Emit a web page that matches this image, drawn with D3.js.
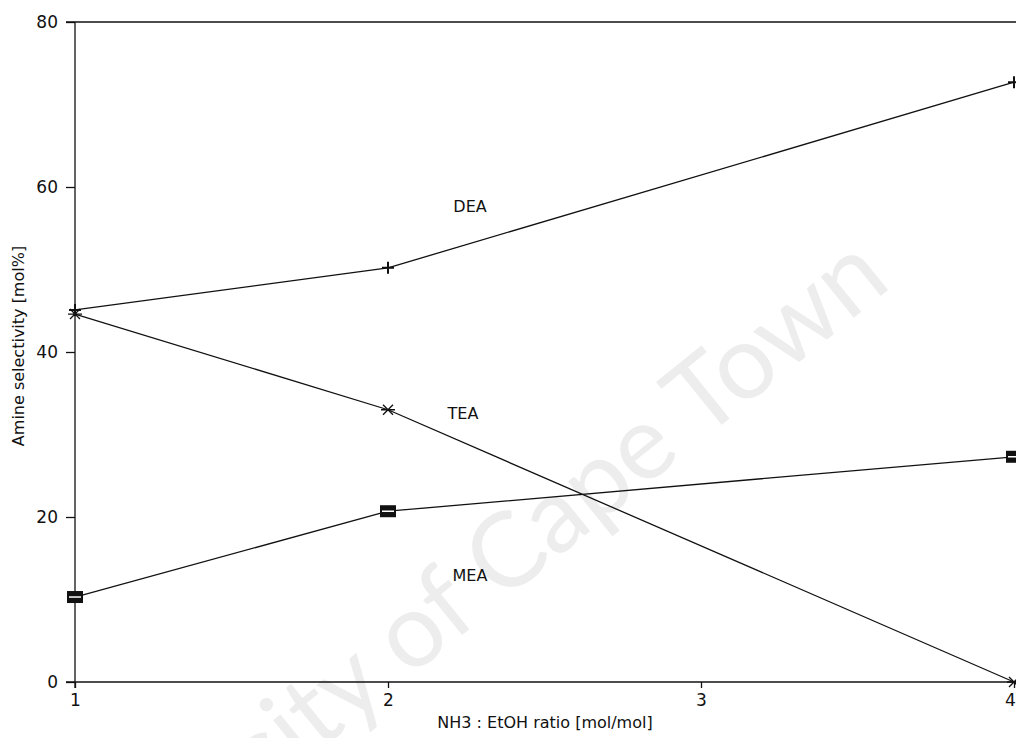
<!DOCTYPE html>
<meta charset="utf-8">
<style>
body { margin: 0; background: #fff; }
text { font-family: "DejaVu Sans", sans-serif; fill: #111; }
.axis path, .axis line { stroke: #111; stroke-width: 1.3; fill: none; }
.axis text { font-size: 17px; }
</style>
<body>
<div id="graph"></div>
<script src="https://cdn.jsdelivr.net/npm/d3@7"></script>
<script>
// data
var ratios = [1, 2, 4];
var dea = [45.1, 50.2, 72.7];
var tea = [44.6, 33.0, 0];
var mea = [10.3, 20.7, 27.3];
var seriesNames = ["DEA", "TEA", "MEA"];
var xTicks = [1, 2, 3, 4];
var yTicks = [0, 20, 40, 60, 80];

var W = 1016, H = 738;
var svg = d3.select("#graph").append("svg")
  .attr("width", W).attr("height", H);

var x = d3.scaleLinear().domain([1, 4]).range([75, 1014]),
    y = d3.scaleLinear().domain([0, 80]).range([682, 22]);

// watermark
svg.append("text")
  .attr("transform", "translate(30,985) rotate(-39)")
  .style("font-size", "104px")
  .style("fill", "#ededed")
  .style("font-family", "Lato, 'DejaVu Sans', sans-serif")
  .text("University of Cape Town");

// axes
svg.append("g").attr("class", "axis")
  .attr("transform", "translate(0,682)")
  .call(d3.axisBottom(x).tickValues(xTicks).tickFormat(d3.format("d"))
    .tickSize(6).tickSizeOuter(0).tickPadding(6))
  .call(g => g.select(".domain").attr("d", "M66,0H1016"))
  .call(g => g.selectAll(".tick text").filter(d => d === 4).attr("dx", "-4"));

svg.append("g").attr("class", "axis")
  .attr("transform", "translate(75,0)")
  .call(d3.axisLeft(y).tickValues(yTicks).tickSize(9).tickSizeOuter(0).tickPadding(8))
  .call(g => g.select(".domain").attr("d", "M0,22V688"));

svg.append("line")
  .attr("x1", 66).attr("x2", W).attr("y1", 22).attr("y2", 22)
  .attr("stroke", "#111").attr("stroke-width", 1.3);

// axis titles
svg.append("text")
  .attr("x", 545).attr("y", 728)
  .attr("text-anchor", "middle")
  .style("font-size", "16px")
  .text("NH3 : EtOH ratio [mol/mol]");

svg.append("text")
  .attr("transform", "translate(24,346) rotate(-90)")
  .attr("text-anchor", "middle")
  .style("font-size", "16px")
  .text("Amine selectivity [mol%]");

// lines
var line = d3.line().x((d, i) => x(ratios[i])).y(d => y(d));
[dea, tea, mea].forEach(function(s) {
  svg.append("path")
    .datum(s)
    .attr("d", line)
    .attr("fill", "none")
    .attr("stroke", "#111")
    .attr("stroke-width", 1.3);
});

// markers
var g = svg.append("g").attr("stroke", "#111").attr("stroke-width", 2);
dea.forEach(function(v, i) {
  var cx = x(ratios[i]), cy = y(v);
  g.append("path").attr("d", "M" + (cx - 6) + "," + cy + "H" + (cx + 6) + "M" + cx + "," + (cy - 6) + "V" + (cy + 6));
});
tea.forEach(function(v, i) {
  var cx = x(ratios[i]), cy = y(v);
  g.append("path").attr("stroke-width", 1.3)
    .attr("d", "M" + (cx - 7) + "," + cy + "H" + (cx + 7) +
      "M" + (cx - 5) + "," + (cy - 5) + "L" + (cx + 5) + "," + (cy + 5) +
      "M" + (cx - 5) + "," + (cy + 5) + "L" + (cx + 5) + "," + (cy - 5));
});
mea.forEach(function(v, i) {
  var cx = x(ratios[i]), cy = y(v);
  svg.append("rect").attr("x", cx - 8).attr("y", cy - 6)
    .attr("width", 16).attr("height", 12).attr("fill", "#111");
  svg.append("line").attr("x1", cx - 6).attr("x2", cx + 6)
    .attr("y1", cy).attr("y2", cy).attr("stroke", "#fff").attr("stroke-width", 1.5);
});

// series labels
var labelPos = [[470, 206], [463, 413], [470, 575]];
seriesNames.forEach(function(n, i) {
  svg.append("text")
    .attr("x", labelPos[i][0]).attr("y", labelPos[i][1])
    .attr("text-anchor", "middle")
    .attr("dy", "0.35em")
    .style("font-size", "16px")
    .text(n);
});
</script>
</body>
